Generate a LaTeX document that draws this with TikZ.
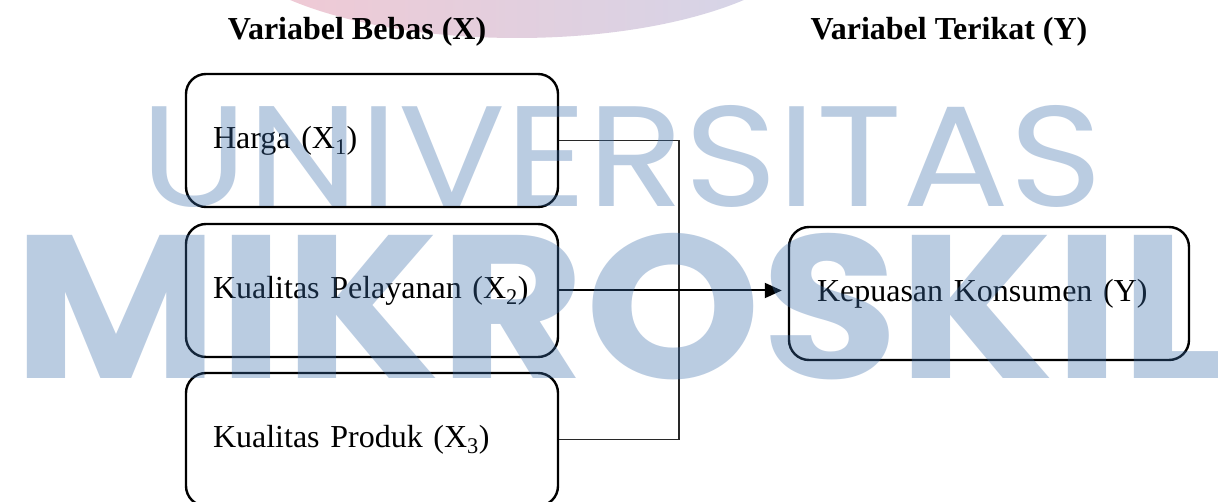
\documentclass[tikz,border=0pt]{standalone}
\usepackage{fontspec}
\setmainfont{Liberation Serif}
\newfontfamily\wmfont{Poppins}
\usetikzlibrary{arrows.meta}
\definecolor{wmblue}{RGB}{60,110,170}
\definecolor{pinkL}{RGB}{243,200,210}
\definecolor{pinkR}{RGB}{210,214,234}
\definecolor{connc}{RGB}{40,40,40}
\tikzset{
  varbox/.style={draw, line width=2.4pt, rounded corners=20pt, minimum height=133pt,
    inner ysep=0pt, align=left, font=\fontsize{32}{36}\selectfont},
  titletext/.style={font=\fontsize{32}{36}\selectfont\bfseries, anchor=base, inner sep=0pt},
  conn/.style={draw=connc, line width=1.3pt},
  arrowconn/.style={draw=black, line width=2pt, -{Triangle[length=17pt,width=15pt]}, shorten >=6pt},
  wm/.style={inner sep=0pt, text=wmblue, opacity=0.35, anchor=south west}
}
\begin{document}
\begin{tikzpicture}[x=1pt,y=-1pt]
\clip (0,0) rectangle (1218,502);
\fill[white] (0,0) rectangle (1218,502);
\shade[left color=pinkL, right color=pinkR] (517,-72) ellipse [x radius=300, y radius=110];
\node[titletext] (tx) at (357,40) {Variabel Bebas (X)};
\node[titletext] (ty) at (949,40) {Variabel Terikat (Y)};
\node[varbox, inner xsep=27pt, text width=318pt] (h) at (372,140.5) {Harga (X\textsubscript{1})};
\node[varbox, inner xsep=27pt, text width=318pt] (k) at (372,290.5) {Kualitas Pelayanan (X\textsubscript{2})};
\node[varbox, inner xsep=27pt, text width=318pt] (p) at (372,439.5) {Kualitas Produk (X\textsubscript{3})};
\node[varbox, inner xsep=28pt, text width=344pt] (y) at (989,293.5) {Kepuasan Konsumen (Y)};
\coordinate (j) at (679,290.5);
\draw[conn] (h.east) -| (j);
\draw[conn] (p.east) -| (j);
\draw[arrowconn] (k.east) -- (k.east -| y.west);
\node[wm] (w1) at (140,208) {\resizebox{962pt}{101pt}{\wmfont UNIVERSITAS}};
\node[wm] (w2) at (13,380) {\resizebox{1212pt}{145pt}{\wmfont\bfseries MIKROSKIL}};
\end{tikzpicture}
\end{document}
